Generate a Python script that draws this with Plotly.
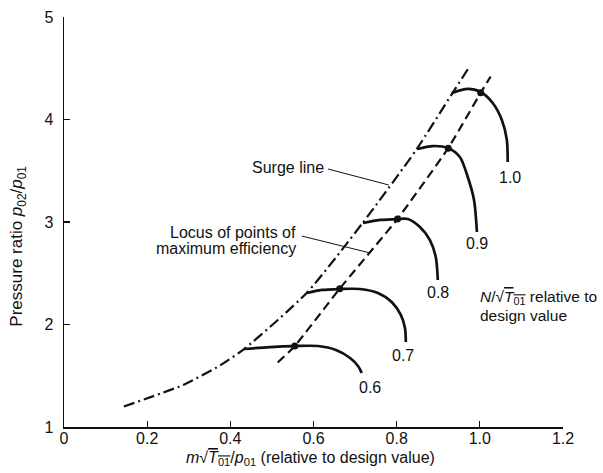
import plotly.graph_objects as go

# ---------------- data ----------------
x_ticks = [0, 0.2, 0.4, 0.6, 0.8, 1.0, 1.2]
x_tick_text = ["0", "0.2", "0.4", "0.6", "0.8", "1.0", "1.2"]
y_ticks = [1, 2, 3, 4, 5]

# surge line (dash-dot)
surge_x = [0.144, 0.286, 0.375, 0.433, 0.584, 0.718, 0.848, 0.933, 0.971]
surge_y = [1.20, 1.41, 1.60, 1.76, 2.31, 2.99, 3.71, 4.25, 4.49]

# locus of points of maximum efficiency (dashed)
locus_x = [0.514, 0.555, 0.663, 0.802, 0.924, 1.002, 1.026]
locus_y = [1.63, 1.79, 2.35, 3.03, 3.72, 4.26, 4.42]

# constant speed lines N/sqrt(T01)
speeds = [0.6, 0.7, 0.8, 0.9, 1.0]
speed_x = {
    0.6: [0.433, 0.495, 0.555, 0.611, 0.654, 0.688, 0.707, 0.716],
    0.7: [0.584, 0.620, 0.663, 0.712, 0.755, 0.788, 0.810, 0.820, 0.822],
    0.8: [0.719, 0.760, 0.803, 0.827, 0.856, 0.880, 0.894, 0.899],
    0.9: [0.849, 0.887, 0.923, 0.952, 0.971, 0.986, 0.993],
    1.0: [0.933, 0.971, 1.002, 1.031, 1.053, 1.065, 1.067],
}
speed_y = {
    0.6: [1.761, 1.780, 1.790, 1.790, 1.751, 1.673, 1.595, 1.527],
    0.7: [2.307, 2.337, 2.346, 2.346, 2.307, 2.220, 2.093, 1.966, 1.829],
    0.8: [2.990, 3.020, 3.029, 3.029, 2.951, 2.824, 2.659, 2.434],
    0.9: [3.712, 3.741, 3.722, 3.634, 3.439, 3.215, 2.902],
    1.0: [4.259, 4.298, 4.268, 4.161, 3.995, 3.800, 3.585],
}
# maximum-efficiency points on each speed line
peak_x = [0.555, 0.663, 0.802, 0.924, 1.002]
peak_y = [1.79, 2.35, 3.03, 3.72, 4.26]

# speed label anchor positions
label_x = [0.736, 0.815, 0.899, 0.993, 1.072]
label_y = [1.39, 1.70, 2.317, 2.795, 3.439]

FONT = "Liberation Sans, Arial, sans-serif"
INK = "#111111"

fig = go.Figure()

fig.add_trace(go.Scatter(
    x=surge_x, y=surge_y, mode="lines",
    line=dict(color=INK, width=2.2, dash="11px,4px,2px,4px", shape="spline", smoothing=0.6),
    hoverinfo="skip", showlegend=False))

fig.add_trace(go.Scatter(
    x=locus_x, y=locus_y, mode="lines",
    line=dict(color=INK, width=2.2, dash="9px,5px", shape="spline", smoothing=0.4),
    hoverinfo="skip", showlegend=False))

for s in speeds:
    fig.add_trace(go.Scatter(
        x=speed_x[s], y=speed_y[s], mode="lines",
        line=dict(color=INK, width=2.7, shape="spline", smoothing=0.8),
        hoverinfo="skip", showlegend=False))

fig.add_trace(go.Scatter(
    x=peak_x, y=peak_y, mode="markers",
    marker=dict(color=INK, size=7),
    hoverinfo="skip", showlegend=False))

for s, lx, ly in zip(speeds, label_x, label_y):
    fig.add_annotation(x=lx, y=ly, text=f"{s:.1f}", showarrow=False,
                       font=dict(family=FONT, size=16, color=INK))

# text labels with leader lines
fig.add_annotation(x=0.538, y=3.527, text="Surge line", showarrow=False,
                   font=dict(family=FONT, size=16, color=INK))
fig.add_shape(type="line", x0=0.635, y0=3.517, x1=0.781, y1=3.361,
              line=dict(color=INK, width=1))

fig.add_annotation(x=0.5625, y=2.893, text="Locus of points of", showarrow=False,
                   xanchor="right", font=dict(family=FONT, size=16, color=INK))
fig.add_annotation(x=0.5625, y=2.737, text="maximum efficiency", showarrow=False,
                   xanchor="right", font=dict(family=FONT, size=16, color=INK))
fig.add_shape(type="line", x0=0.572, y0=2.863, x1=0.736, y1=2.698,
              line=dict(color=INK, width=1))

fig.add_annotation(x=0.995, y=2.268, xanchor="left", showarrow=False,
                   text="<i>N</i>/√<span style='text-decoration:overline'><i>T</i><sub>01</sub></span> relative to",
                   font=dict(family=FONT, size=15.5, color=INK))
fig.add_annotation(x=0.995, y=2.083, xanchor="left", showarrow=False,
                   text="design value",
                   font=dict(family=FONT, size=15.5, color=INK))

# axis titles as annotations (paper coordinates)
fig.add_annotation(xref="paper", yref="paper", x=0.493, y=-0.078,
                   xanchor="center", yanchor="middle", showarrow=False,
                   text="<i>m</i>√<span style='text-decoration:overline'><i>T</i><sub>01</sub></span>/<i>p</i><sub>01</sub> (relative to design value)",
                   font=dict(family=FONT, size=16, color=INK))
fig.add_annotation(xref="paper", yref="paper", x=-0.092, y=0.44,
                   xanchor="center", yanchor="middle", showarrow=False,
                   textangle=-90,
                   text="Pressure ratio <i>p</i><sub>02</sub>/<i>p</i><sub>01</sub>",
                   font=dict(family=FONT, size=17, color=INK))

fig.update_layout(
    width=603, height=473,
    margin=dict(l=64, r=40, t=17, b=46, autoexpand=False),
    paper_bgcolor="white", plot_bgcolor="white",
    font=dict(family=FONT, size=16, color=INK),
    hovermode=False,
    xaxis=dict(
        range=[0, 1.2], tickvals=x_ticks, ticktext=x_tick_text, automargin=False,
        showgrid=False, zeroline=False, showline=True, linecolor=INK, linewidth=1.5,
        ticks="inside", ticklen=6, tickwidth=1.2, tickcolor=INK,
        tickfont=dict(family=FONT, size=16, color=INK), ticklabelstandoff=-4,
    ),
    yaxis=dict(
        range=[1, 5], tickvals=y_ticks, automargin=False,
        showgrid=False, zeroline=False, showline=True, linecolor=INK, linewidth=1.5,
        ticks="inside", ticklen=6, tickwidth=1.2, tickcolor=INK,
        tickfont=dict(family=FONT, size=16, color=INK), ticklabelstandoff=6,
    ),
)

fig.write_html("out.html",
               config={"displayModeBar": False, "staticPlot": True},
               post_script="document.body.style.margin='0px';document.body.style.overflow='hidden';")
